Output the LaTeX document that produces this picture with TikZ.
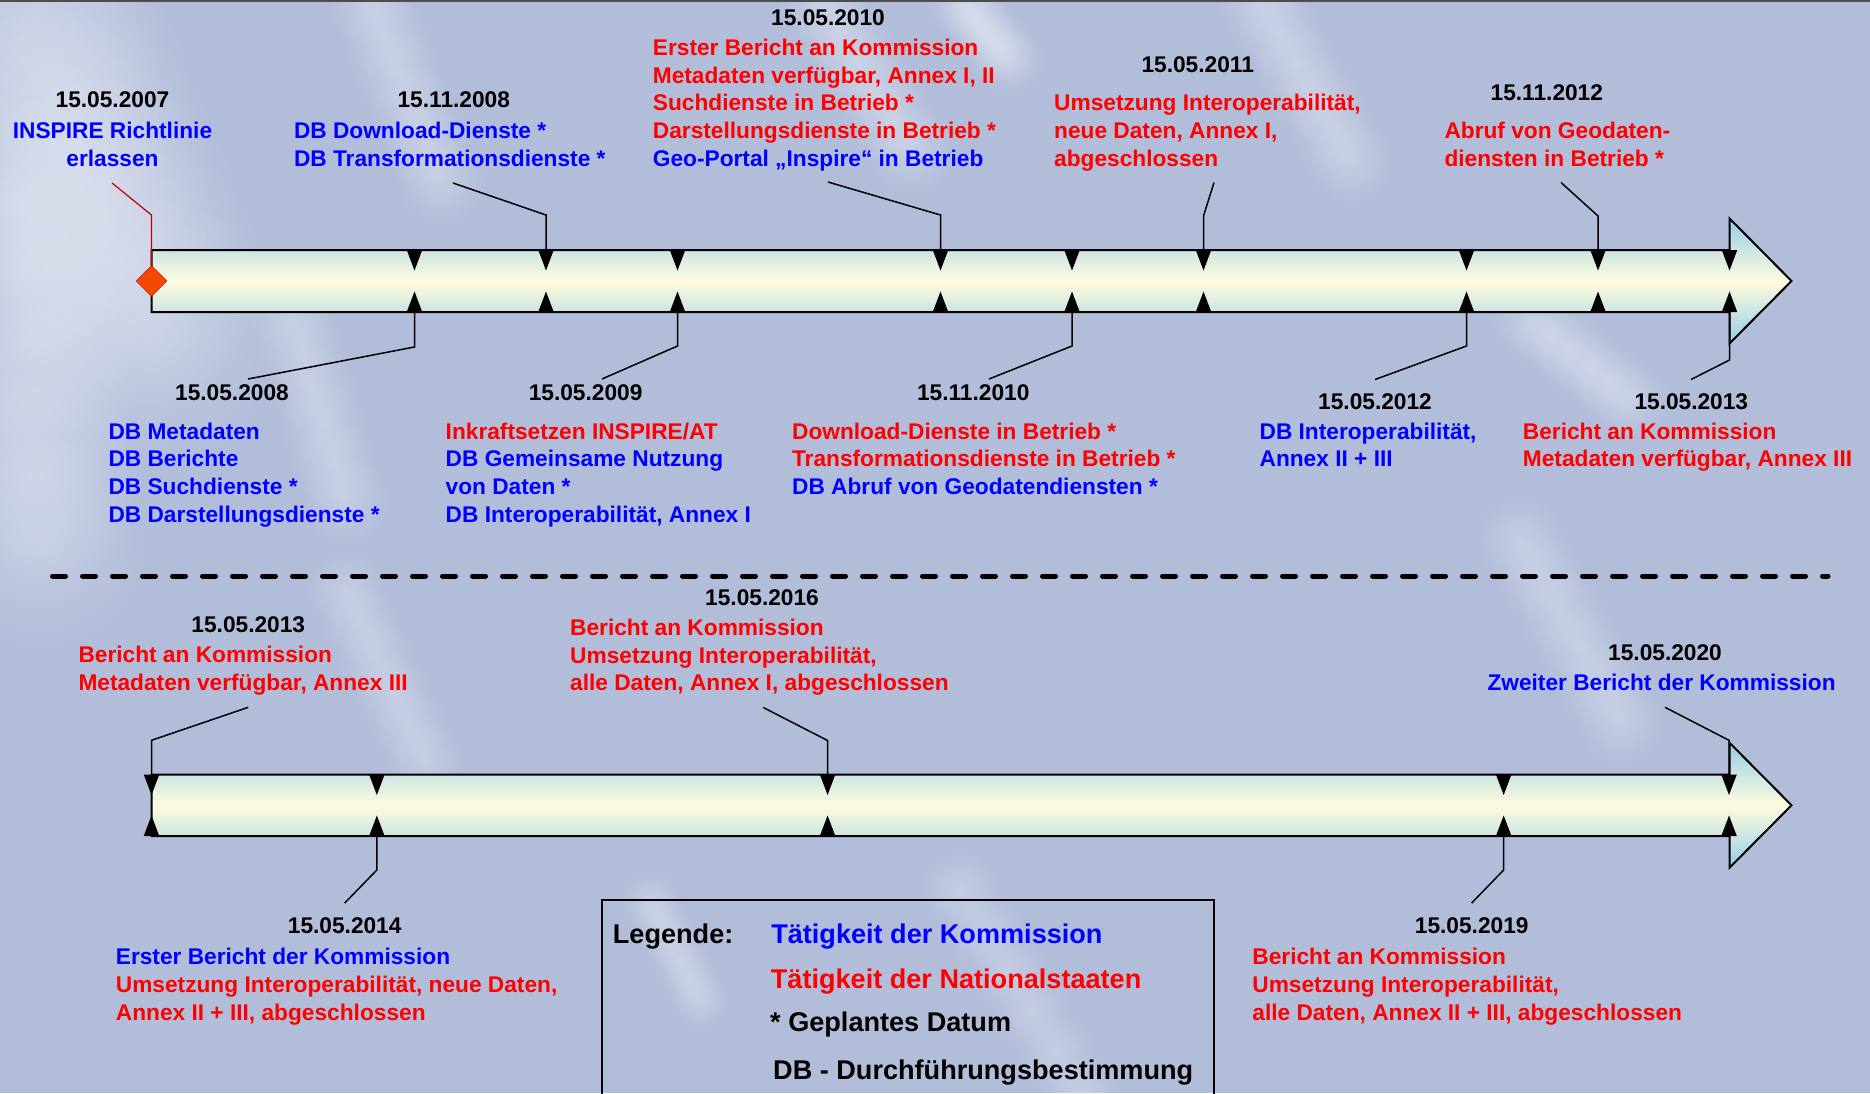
\documentclass[tikz,border=0pt]{standalone}
\usepackage{fontspec}
\setmainfont{Liberation Sans}
\usetikzlibrary{positioning, shapes.geometric, fadings}

\definecolor{sky}{RGB}{178,189,218}
\definecolor{kommblue}{RGB}{0,0,255}
\definecolor{natred}{RGB}{255,0,0}
\definecolor{headblue}{RGB}{150,205,232}
\definecolor{barcream}{RGB}{255,252,222}
\definecolor{startorange}{RGB}{242,72,0}
\definecolor{startred}{RGB}{192,0,0}

\newcommand{\txt}{\fontsize{22.7}{27.7}\selectfont\bfseries}
\newcommand{\legtxt}{\fontsize{27.1}{32}\selectfont\bfseries}
\newcommand{\cloud}[5]{%
    \foreach \p in {0,0.2,...,1}
        \fill[white, fill opacity=0.25, path fading=soft]
            ({#1+\p*(#3-#1)},{#2+\p*(#4-#2)}) circle (#5);}

\tikzfading[name=soft, inner color=transparent!0, outer color=transparent!100]

\tikzset{
    datum/.style={font=\txt, inner sep=0pt, anchor=base},
    block/.style={font=\txt, inner sep=0pt, anchor=north west, align=left},
    komm/.style={block, text=kommblue},
    nat/.style={block, text=natred},
    legend/.style={font=\legtxt, inner sep=0pt, anchor=base west},
    lead/.style={line width=1.5pt},
    bar/.style={line width=2pt, top color=headblue, bottom color=headblue, middle color=barcream}
}

\begin{document}
\begin{tikzpicture}[x=1pt, y=-1pt]
    \useasboundingbox (0,0) rectangle (1870,1093);
    \fill[sky] (0,0) rectangle (1870,1093);
    \cloud{30}{30}{150}{330}{140pt}
    \cloud{20}{200}{40}{540}{110pt}
    \cloud{370}{0}{440}{180}{45pt}
    \cloud{820}{0}{910}{150}{45pt}
    \cloud{960}{0}{1010}{60}{35pt}
    \cloud{1260}{0}{1350}{160}{45pt}
    \cloud{290}{310}{345}{500}{45pt}
    \cloud{1530}{320}{1630}{400}{40pt}
    \cloud{1520}{540}{1620}{720}{45pt}
    \cloud{345}{590}{425}{760}{40pt}
    \cloud{650}{900}{700}{1000}{30pt}
    \cloud{960}{890}{1080}{1093}{40pt}
    \draw[gray!60!black, line width=1.5pt] (0,0.75) -- (1870,0.75);

    % upper timeline 2007 - 2013
    \draw[bar] (151.5,250) -- (1729.5,250) -- (1729.5,218.5) -- (1791.5,281) -- (1729.5,343.5) -- (1729.5,312) -- (151.5,312) -- cycle;
    \foreach \k in {2,3,4,6,7,8,10,11,12} {
        \coordinate (a\k) at ({151.5+131.5*\k},250);
        \coordinate (b\k) at ({151.5+131.5*\k},312);
        \fill (a\k) ++(-7.75,0) -- ++(15.5,0) -- ++(-7.75,20.5) -- cycle;
        \fill (b\k) ++(-7.75,0) -- ++(15.5,0) -- ++(-7.75,-20.5) -- cycle;
    }
    \node (start) [diamond, draw=startred, fill=startorange, minimum width=31pt, minimum height=31pt, inner sep=0pt] at (151.5,281) {};
    \coordinate (c07) at (112,183);
    \draw[startred, line width=1.2pt] (start.north) -- (151.5,215) -- (c07);

    \coordinate (c0811) at (453,183);
    \coordinate (c10) at (828,182);
    \coordinate (c11) at (1214,182.5);
    \coordinate (c1211) at (1561,182.5);
    \coordinate (c08) at (248,379);
    \coordinate (c09) at (602,379);
    \coordinate (c1011) at (989,379);
    \coordinate (c12) at (1375,379.5);
    \coordinate (c13) at (1691,379.5);
    \draw[lead] (a3) -- ++(0,-35) -- (c0811);
    \draw[lead] (a6) -- ++(0,-35) -- (c10);
    \draw[lead] (a8) -- ++(0,-34) -- (c11);
    \draw[lead] (a11) -- ++(0,-34) -- (c1211);
    \draw[lead] (b2) -- ++(0,35) -- (c08);
    \draw[lead] (b4) -- ++(0,34) -- (c09);
    \draw[lead] (b7) -- ++(0,34) -- (c1011);
    \draw[lead] (b10) -- ++(0,34) -- (c12);
    \draw[lead] (b12) -- ++(0,48) -- (c13);

    \node (d07) [datum] at (112.5,107.5) {15.05.2007};
    \node (t07) [komm, anchor=north, align=center] at (112.5,118.9) {\strut INSPIRE Richtlinie\\erlassen};
    \node (d0811) [datum] at (453.8,107.5) {15.11.2008};
    \node (t0811) [komm] at (293.8,118.9) {\strut DB Download-Dienste *\\DB Transformationsdienste *};
    \node (d10) [datum] at (828,25) {15.05.2010};
    \node (t10) [nat] at (652.7,35.8) {\strut Erster Bericht an Kommission\\Metadaten verfügbar, Annex I, II\\Suchdienste in Betrieb *\\Darstellungsdienste in Betrieb *\\\textcolor{kommblue}{Geo-Portal „Inspire“ in Betrieb}};
    \node (d11) [datum] at (1197.7,72.3) {15.05.2011};
    \node (t11) [nat] at (1054,91.2) {\strut Umsetzung Interoperabilität,\\neue Daten, Annex I,\\abgeschlossen};
    \node (d1211) [datum] at (1546.8,100) {15.11.2012};
    \node (t1211) [nat] at (1444.3,118.9) {\strut Abruf von Geodaten-\\diensten in Betrieb *};

    \node (d08) [datum] at (232,400.7) {15.05.2008};
    \node (t08) [komm] at (108.3,419.6) {\strut DB Metadaten\\DB Berichte\\DB Suchdienste *\\DB Darstellungsdienste *};
    \node (d09) [datum] at (585.6,400.7) {15.05.2009};
    \node (t09) [komm] at (445.5,419.6) {\strut\textcolor{natred}{Inkraftsetzen INSPIRE/AT}\\DB Gemeinsame Nutzung\\von Daten *\\DB Interoperabilität, Annex I};
    \node (d1011) [datum] at (973.2,400.7) {15.11.2010};
    \node (t1011) [nat] at (791.9,419.6) {\strut Download-Dienste in Betrieb *\\Transformationsdienste in Betrieb *\\\textcolor{kommblue}{DB Abruf von Geodatendiensten *}};
    \node (d12) [datum] at (1375,409.3) {15.05.2012};
    \node (t12) [komm] at (1259.4,419.6) {\strut DB Interoperabilität,\\Annex II + III};
    \node (d13) [datum] at (1691.3,409.3) {15.05.2013};
    \node (t13) [nat] at (1522.7,419.6) {\strut Bericht an Kommission\\Metadaten verfügbar, Annex III};

    \draw[line width=5pt, line cap=round, dash pattern=on 13pt off 17pt] (52.5,576) -- (1828,576);

    % lower timeline 2013 - 2020
    \draw[bar] (151.5,774.5) -- (1729.5,774.5) -- (1729.5,742.75) -- (1791.5,805.25) -- (1729.5,867.75) -- (1729.5,836) -- (151.5,836) -- cycle;
    \foreach \j in {0,1,3,6,7} {
        \coordinate (p\j) at ({151.5+225.36*\j},774.5);
        \coordinate (q\j) at ({151.5+225.36*\j},836);
        \fill (p\j) ++(-7.75,0) -- ++(15.5,0) -- ++(-7.75,20.5) -- cycle;
        \fill (q\j) ++(-7.75,0) -- ++(15.5,0) -- ++(-7.75,-20.5) -- cycle;
    }
    \coordinate (g13) at (248.3,707.3);
    \coordinate (g16) at (763.3,707.5);
    \coordinate (g20) at (1665,707.3);
    \coordinate (g14) at (344.7,903);
    \coordinate (g19) at (1471.7,903);
    \draw[lead] (p0) -- ++(0,-34.2) -- (g13);
    \draw[lead] (p3) -- ++(0,-34) -- (g16);
    \draw[lead] (p7) -- ++(0,-34.2) -- (g20);
    \draw[lead] (q1) -- ++(0,34) -- (g14);
    \draw[lead] (q6) -- ++(0,34) -- (g19);

    \node (e13) [datum] at (248.3,632.7) {15.05.2013};
    \node (f13) [nat] at (78.3,643.3) {\strut Bericht an Kommission\\Metadaten verfügbar, Annex III};
    \node (e16) [datum] at (762,605.5) {15.05.2016};
    \node (f16) [nat] at (570,615.9) {\strut Bericht an Kommission\\Umsetzung Interoperabilität,\\alle Daten, Annex I, abgeschlossen};
    \node (e20) [datum] at (1665,660) {15.05.2020};
    \node (f20) [komm] at (1487.3,670.6) {\strut Zweiter Bericht der Kommission};
    \node (e14) [datum] at (344.7,933.5) {15.05.2014};
    \node (f14) [nat] at (115.7,945.1) {\strut\textcolor{kommblue}{Erster Bericht der Kommission}\\Umsetzung Interoperabilität, neue Daten,\\Annex II + III, abgeschlossen};
    \node (e19) [datum] at (1471.7,933.5) {15.05.2019};
    \node (f19) [nat] at (1252.2,945.1) {\strut Bericht an Kommission\\Umsetzung Interoperabilität,\\alle Daten, Annex II + III, abgeschlossen};

    % legend
    \draw[line width=2pt] (602,1100) |- (1214,900) -- (1214,1100);
    \node (leg) [legend] at (612.7,943) {Legende:};
    \node (legkomm) [legend, text=kommblue, base right=37.5pt of leg] {Tätigkeit der Kommission};
    \node (legnat) [legend, text=natred] at (770.7,988) {Tätigkeit der Nationalstaaten};
    \node (legplan) [legend] at (770,1031.3) {* Geplantes Datum};
    \node (legdb) [legend] at (773,1079.7) {DB - Durchführungsbestimmung};
\end{tikzpicture}
\end{document}
